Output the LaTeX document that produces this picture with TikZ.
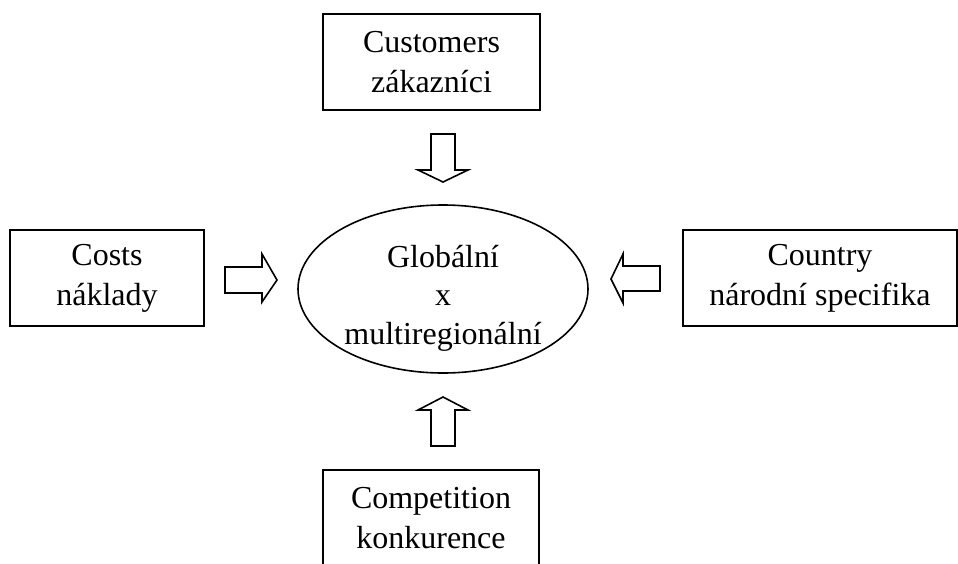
\documentclass[tikz,border=0pt]{standalone}
\usepackage{fontspec}
\setmainfont{Liberation Serif}
\usetikzlibrary{shapes.geometric}
\begin{document}
\begin{tikzpicture}[x=1pt,y=-1pt,line width=1.6pt,
  box/.style={draw,rectangle,minimum height=96pt,inner sep=0pt,align=center,font=\fontsize{32}{40}\selectfont},
  lbl/.style={align=center,inner sep=0pt,font=\fontsize{32}{38.5}\selectfont},
  blockarrow/.style={draw,fill=white,line join=miter}]
\useasboundingbox (0,0) rectangle (958,563);
\clip (0,0) rectangle (958,563);
\node[box,minimum width=217pt] (cust) at (431.5,62) {Customers\\zákazníci};
\node[box,minimum width=194pt] (costs) at (107,278) {Costs\\náklady};
\node[box,minimum width=274pt] (country) at (820,278) {Country\\národní specifika};
\node[box,minimum width=216pt] (comp) at (431,518) {Competition\\konkurence};
\node[draw,ellipse,minimum width=290pt,minimum height=168pt,inner sep=0pt] (glob) at (443,289) {};
\node[lbl] (globtext) at (443,298) {Globální\\x\\multiregionální};
% block arrows
\draw[blockarrow] (431,134) -- (455,134) -- (455,170) -- (468,170) -- (443,182) -- (418,170) -- (431,170) -- cycle;
\draw[blockarrow] (431,446) -- (455,446) -- (455,410) -- (468,410) -- (443,397) -- (418,410) -- (431,410) -- cycle;
\draw[blockarrow] (225,267) -- (262,267) -- (262,254) -- (277,280) -- (262,302) -- (262,293) -- (225,293) -- cycle;
\draw[blockarrow] (660,266) -- (623,266) -- (623,254) -- (611,279) -- (623,303) -- (623,291) -- (660,291) -- cycle;
\end{tikzpicture}
\end{document}
